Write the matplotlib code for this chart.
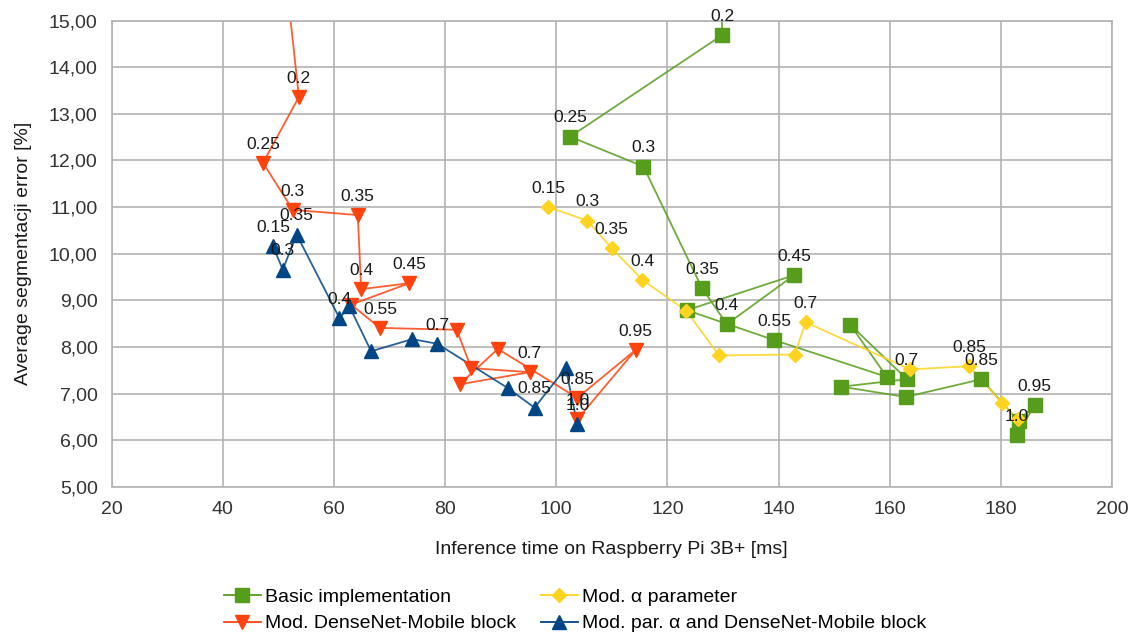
import matplotlib
matplotlib.use("Agg")
import matplotlib.pyplot as plt
from matplotlib.ticker import FuncFormatter

plt.rcParams['font.family'] = ['Liberation Sans', 'DejaVu Sans']

# --- data (x = inference time [ms], y = error [%]) ---
basic_x = [129.4, 129.9, 102.5, 115.7, 126.2, 130.7, 142.8, 123.5, 139.2, 159.5,
           152.9, 163.1, 151.3, 162.9, 176.5, 183.2, 186.1, 182.9]
basic_y = [16.4, 14.69, 12.51, 11.87, 9.27, 8.49, 9.54, 8.79, 8.15, 7.36,
           8.48, 7.31, 7.15, 6.93, 7.31, 6.41, 6.76, 6.11]
basic_lbl = ['', '0.2', '0.25', '0.3', '0.35', '0.4', '0.45', '', '0.55', '',
             '', '0.7', '', '', '0.85', '', '0.95', '1.0']

alpha_x = [98.6, 105.6, 110.0, 115.5, 123.4, 129.3, 142.9, 144.9, 163.7, 174.3, 180.2, 183.0]
alpha_y = [11.0, 10.71, 10.12, 9.44, 8.78, 7.82, 7.84, 8.53, 7.52, 7.59, 6.80, 6.45]
alpha_lbl = ['0.15', '0.3', '0.35', '0.4', '', '', '', '0.7', '', '0.85', '', '']

dense_x = [51.3, 53.7, 47.25, 52.6, 64.3, 64.9, 73.6, 63.1, 68.3, 82.1, 84.7,
           95.2, 82.6, 89.5, 103.8, 114.3, 103.8]
dense_y = [16.0, 13.36, 11.95, 10.94, 10.83, 9.24, 9.37, 8.91, 8.41, 8.37, 7.55,
           7.46, 7.20, 7.96, 6.91, 7.94, 6.45]
dense_lbl = ['', '0.2', '0.25', '0.3', '0.35', '0.4', '0.45', '', '0.55', '', '',
             '0.7', '', '', '0.85', '0.95', '1.0']

both_x = [49.05, 50.8, 53.3, 61.0, 62.8, 66.7, 74.1, 78.6, 91.3, 96.1, 101.7, 103.8]
both_y = [10.16, 9.66, 10.41, 8.62, 8.87, 7.91, 8.17, 8.07, 7.12, 6.70, 7.55, 6.34]
both_lbl = ['0.15', '0.3', '0.35', '0.4', '', '', '', '0.7', '', '0.85', '', '1.0']

x_ticks = [20, 40, 60, 80, 100, 120, 140, 160, 180, 200]
y_ticks = [5, 6, 7, 8, 9, 10, 11, 12, 13, 14, 15]

series = [
    ("Basic implementation", basic_x, basic_y, basic_lbl, '#579D1C', 's', 10),
    ("Mod. DenseNet-Mobile block", dense_x, dense_y, dense_lbl, '#FF420E', 'v', 10),
    ("Mod. α parameter", alpha_x, alpha_y, alpha_lbl, '#FFD320', 'D', 7.5),
    ("Mod. par. α and DenseNet-Mobile block", both_x, both_y, both_lbl, '#004586', '^', 10),
]

fig = plt.figure(figsize=(11.34, 6.37), dpi=100)
ax = fig.add_axes([0.0984, 0.2355, 0.8822, 0.7323])

handles = {}
for name, xs, ys, lbls, col, mk, ms in series:
    ax.plot(xs, ys, '-', color=col, lw=1.3, alpha=0.85, zorder=2)
    ax.plot(xs, ys, linestyle='none', marker=mk, ms=ms, color=col,
            markeredgecolor=col, zorder=3)
    h, = ax.plot([], [], '-', color=col, lw=1.3, marker=mk, ms=ms,
                 markeredgecolor=col)
    handles[name] = h

# point labels (alpha values) just above the markers
for name, xs, ys, lbls, col, mk, ms in series:
    for x, y, t in zip(xs, ys, lbls):
        if t:
            ax.annotate(t, (x, y), xytext=(0, 13.5), textcoords='offset points',
                        ha='center', va='center', fontsize=12.5, color='#1a1a1a',
                        zorder=5, annotation_clip=False)

ax.set_xlim(20, 200)
ax.set_ylim(5, 15)
ax.set_xticks(x_ticks)
ax.set_yticks(y_ticks)
ax.yaxis.set_major_formatter(FuncFormatter(lambda v, p: f"{v:.2f}".replace('.', ',')))
ax.grid(True, color='#b3b3b3', lw=1.2)
ax.set_axisbelow(True)
for s in ax.spines.values():
    s.set_color('#b3b3b3')
    s.set_linewidth(1.2)
ax.tick_params(axis='both', length=0, labelsize=14, colors='#333333')
ax.tick_params(axis='y', pad=10)
ax.tick_params(axis='x', pad=10)
ax.set_xlabel('Inference time on Raspberry Pi 3B+ [ms]', fontsize=14, labelpad=17,
              color='#1a1a1a')
ax.set_ylabel('Average segmentacji error [%]', fontsize=14, labelpad=12,
              color='#1a1a1a')

order = ["Basic implementation", "Mod. DenseNet-Mobile block",
         "Mod. α parameter", "Mod. par. α and DenseNet-Mobile block"]
fig.legend([handles[k] for k in order], order, ncol=2, loc='center',
           bbox_to_anchor=(0.507, 0.0416), frameon=False, fontsize=14,
           handlelength=1.9, columnspacing=1.3, labelspacing=0.45,
           handletextpad=0.2)

fig.savefig('out.png', dpi=100)
